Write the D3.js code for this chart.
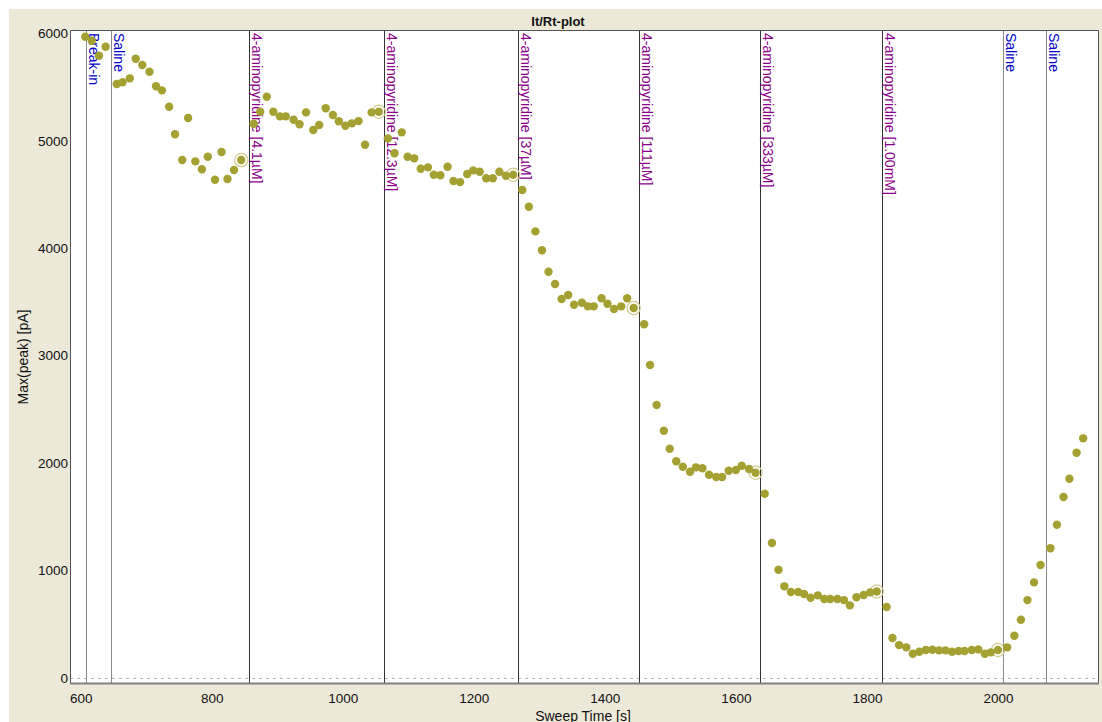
<!DOCTYPE html>
<html lang="en">

<head>
  <meta charset="UTF-8">
  <title>It/Rt-plot</title>
  <style>
    body { margin: 0; background: #fff; }
    text { font-family: "Liberation Sans", Arial, sans-serif; }
  </style>
</head>

<body>
  <svg id="svg" width="1102" height="722"></svg>

  <script src="https://d3js.org/d3.v7.min.js"></script>
  <script>
    // sweep times [s] and peak currents [pA]
    const sweepTime = [
      607, 617, 628, 638,
      655, 664, 675, 684, 694, 705, 715, 724, 735, 744, 755, 764, 775, 785, 794, 805, 815, 824, 834, 845,
      864, 874, 884, 894, 904, 913, 925, 934, 944, 955, 964, 974, 985, 994, 1004, 1014, 1024, 1034, 1044, 1055,
      1069, 1079, 1090, 1099, 1109, 1119, 1130, 1139, 1149, 1160, 1169, 1179, 1190, 1199, 1209, 1219, 1229, 1239, 1249, 1260,
      1274, 1284, 1294, 1304, 1314, 1324, 1334, 1344, 1353, 1365, 1374, 1383, 1395, 1404, 1414, 1425, 1434, 1444,
      1460, 1469, 1479, 1490, 1499, 1509, 1519, 1530, 1539, 1549, 1559, 1570, 1579, 1589, 1600, 1609, 1620, 1630,
      1644, 1655, 1665, 1674, 1684, 1695, 1704, 1714, 1725, 1735, 1744, 1755, 1765, 1774, 1784, 1795, 1805, 1815,
      1830, 1839, 1849, 1860, 1870, 1880, 1890, 1900, 1910, 1920, 1930, 1940, 1949, 1960, 1970, 1980, 1989, 2000,
      2014, 2025, 2035, 2045, 2055, 2065,
      2080, 2090, 2100, 2109, 2120, 2130
    ]
    const peakCurrent = [
      5968, 5931, 5791, 5875,
      5528, 5544, 5581, 5764, 5705, 5642, 5507, 5469, 5317, 5060, 4820, 5211, 4808, 4734, 4851, 4637, 4895, 4643, 4727, 4820,
      5158, 5270, 5410, 5270, 5227, 5227, 5196, 5153, 5264, 5100, 5146, 5302, 5239, 5181, 5140, 5162, 5183, 4963, 5264, 5270,
      5022, 4883, 5078, 4851, 4836, 4739, 4752, 4683, 4678, 4758, 4625, 4615, 4690, 4724, 4711, 4650, 4650, 4711, 4674, 4683,
      4541, 4385, 4156, 3980, 3780, 3666, 3526, 3563, 3473, 3492, 3458, 3458, 3533, 3482, 3433, 3458, 3533, 3442,
      3291, 2912, 2539, 2300, 2132, 2015, 1965, 1918, 1959, 1950, 1890, 1869, 1869, 1927, 1934, 1974, 1943, 1909,
      1713, 1254, 1006, 851, 798, 798, 779, 745, 767, 733, 733, 733, 723, 674, 749, 770, 795, 803,
      658, 370, 304, 283, 223, 242, 258, 261, 255, 255, 242, 249, 249, 258, 264, 223, 236, 258,
      283, 391, 540, 723, 888, 1049,
      1205, 1425, 1683, 1853, 2095, 2229
    ]
    // sweeps marked with a ring (last sweep before each new solution)
    const ringedTimes = [845, 1055, 1260, 1444, 1630, 1815, 2000]

    // solution change events
    const eventTimes = [608, 647, 857, 1062.5, 1267, 1452, 1637, 1822.5, 2008, 2073]
    const eventLabels = [
      "Break-in", "Saline",
      "4-aminopyridine [4.1µM]", "4-aminopyridine [12.3µM]", "4-aminopyridine [37µM]",
      "4-aminopyridine [111µM]", "4-aminopyridine [333µM]", "4-aminopyridine [1.00mM]",
      "Saline", "Saline"
    ]
    const eventKinds = ["saline", "saline", "drug", "drug", "drug", "drug", "drug", "drug", "saline", "saline"]

    const xTicks = [600, 800, 1000, 1200, 1400, 1600, 1800, 2000]
    const yTicks = [0, 1000, 2000, 3000, 4000, 5000, 6000]

    const plotLeft = 70, plotRight = 1099, plotTop = 30, plotBottom = 683

    const svg = d3.select("#svg")

    // beige window background with white strip at top/left
    svg.append("rect")
      .attr("x", 9).attr("y", 9)
      .attr("width", 1102 - 9).attr("height", 722 - 9)
      .attr("fill", "#ece9d8")

    svg.append("rect")
      .attr("x", plotLeft).attr("y", plotTop)
      .attr("width", plotRight - plotLeft).attr("height", plotBottom - plotTop)
      .attr("fill", "#fff")

    const x = d3.scaleLinear()
      .domain([583.7, 2154.2])
      .range([plotLeft, plotRight])

    const y = d3.scaleLinear()
      .domain([-49, 6031])
      .range([plotBottom, plotTop])

    // zero line
    svg.append("line")
      .attr("x1", plotLeft).attr("x2", plotRight)
      .attr("y1", Math.round(y(0)) + 0.5).attr("y2", Math.round(y(0)) + 0.5)
      .attr("stroke", "#b4b4b4")
      .attr("stroke-dasharray", "3,4")

    // event lines + labels
    const events = eventTimes.map((t, i) => ({ t, label: eventLabels[i], kind: eventKinds[i] }))

    svg.selectAll(".event")
      .data(events)
      .enter()
      .append("line")
      .attr("class", "event")
      .attr("x1", d => Math.round(x(d.t)) + 0.5)
      .attr("x2", d => Math.round(x(d.t)) + 0.5)
      .attr("y1", plotTop).attr("y2", plotBottom)
      .attr("stroke", d => d.kind == "drug" ? "#333" : "#8a8a8a")

    svg.selectAll(".eventLabel")
      .data(events)
      .enter()
      .append("text")
      .attr("class", "eventLabel")
      .attr("transform", d => `translate(${Math.round(x(d.t)) + 3},${plotTop + 3}) rotate(90)`)
      .attr("font-size", 14)
      .attr("fill", d => d.kind == "drug" ? "#8b008b" : "#0000c8")
      .text(d => d.label)

    // data points
    const points = sweepTime.map((t, i) => ({ t, v: peakCurrent[i] }))

    svg.selectAll(".ring")
      .data(points.filter(d => ringedTimes.includes(d.t)))
      .enter()
      .append("circle")
      .attr("class", "ring")
      .attr("cx", d => x(d.t))
      .attr("cy", d => y(d.v))
      .attr("r", 6.6)
      .attr("fill", "none")
      .attr("stroke", "#cfcb8c")
      .attr("stroke-width", 1.2)

    svg.selectAll(".dot")
      .data(points)
      .enter()
      .append("circle")
      .attr("class", "dot")
      .attr("cx", d => x(d.t))
      .attr("cy", d => y(d.v))
      .attr("r", 4.2)
      .attr("fill", "#a5a032")

    // frame
    svg.append("path")
      .attr("d", `M${plotLeft + 0.5},${plotBottom} V${plotTop + 0.5} H${plotRight - 0.5} V${plotBottom}`)
      .attr("fill", "none")
      .attr("stroke", "#555")
    svg.append("line")
      .attr("x1", plotLeft).attr("x2", plotRight)
      .attr("y1", plotBottom + 0.5).attr("y2", plotBottom + 0.5)
      .attr("stroke", "#808080")
      .attr("stroke-width", 2)

    // axes
    const xAxis = svg.append("g")
      .attr("transform", `translate(0,${plotBottom})`)
      .call(d3.axisBottom(x).tickValues(xTicks).tickSize(0).tickPadding(10).tickFormat(d3.format("d")))
    xAxis.select(".domain").remove()

    const yAxis = svg.append("g")
      .attr("transform", `translate(${plotLeft},0)`)
      .call(d3.axisLeft(y).tickValues(yTicks).tickSize(0).tickPadding(2).tickFormat(d3.format("d")))
    yAxis.select(".domain").remove()

    svg.selectAll(".tick text")
      .attr("font-family", "'Liberation Sans', Arial, sans-serif")
      .attr("font-size", 13.5)
      .attr("fill", "#111")

    // titles
    svg.append("text")
      .attr("x", 558).attr("y", 26)
      .attr("text-anchor", "middle")
      .attr("font-size", 13)
      .attr("font-weight", "bold")
      .attr("fill", "#111")
      .text("It/Rt-plot")

    svg.append("text")
      .attr("x", 583).attr("y", 721)
      .attr("text-anchor", "middle")
      .attr("font-size", 14)
      .attr("fill", "#111")
      .text("Sweep Time [s]")

    svg.append("text")
      .attr("transform", "translate(28,357) rotate(-90)")
      .attr("text-anchor", "middle")
      .attr("font-size", 14)
      .attr("fill", "#111")
      .text("Max(peak) [pA]")
  </script>
</body>

</html>
